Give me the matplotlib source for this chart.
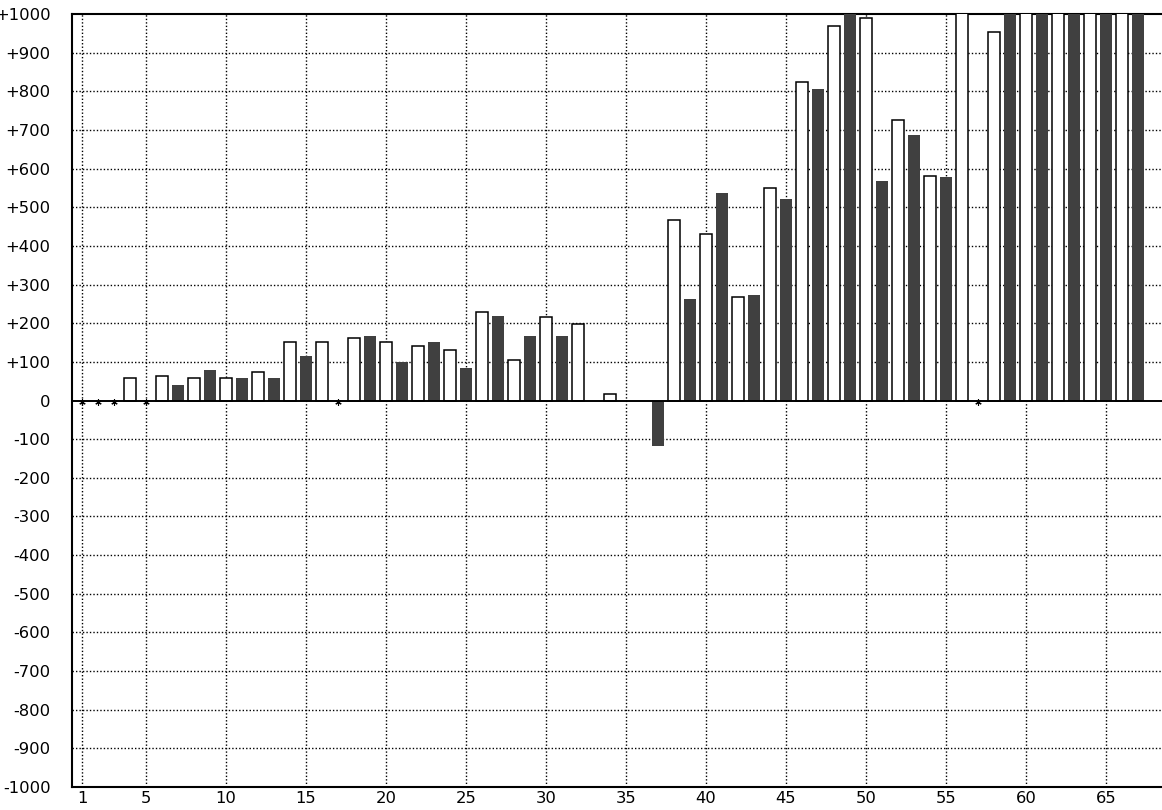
import matplotlib
matplotlib.use("Agg")
import matplotlib.pyplot as plt
import numpy as np

# positions 1..67; None = missing (drawn as '*'), even positions = open bars, odd = filled bars
positions = list(range(1, 68))
values = [None, None, None, 59, None, 64, 41, 59, 78, 59,
          57, 74, 57, 152, 114, 152, None, 163, 166, 152,
          99, 142, 151, 131, 83, 230, 218, 106, 166, 215,
          166, 199, 0, 17, 0, 0, -119, 467, 263, 430,
          538, 269, 273, 549, 522, 824, 807, 969, 1100, 990,
          569, 725, 688, 580, 579, 1100, None, 953, 1100, 1100,
          1100, 1100, 1100, 1100, 1100, 1100, 1100]

xticks = [1, 5, 10, 15, 20, 25, 30, 35, 40, 45, 50, 55, 60, 65]
yticks = list(range(-1000, 1001, 100))
ytick_labels = [("+%d" % v if v > 0 else str(v)) for v in yticks]

W, H = 1162, 810
fig = plt.figure(figsize=(W / 100, H / 100), dpi=100)
ax = fig.add_axes([72 / W, 1 - 787 / H, (W - 72) / W, (787 - 14) / H])

x_open = [p for p, v in zip(positions, values) if v is not None and p % 2 == 0 and v != 0]
v_open = [v for p, v in zip(positions, values) if v is not None and p % 2 == 0 and v != 0]
x_fill = [p for p, v in zip(positions, values) if v is not None and p % 2 == 1 and v != 0]
v_fill = [v for p, v in zip(positions, values) if v is not None and p % 2 == 1 and v != 0]
x_miss = [p for p, v in zip(positions, values) if v is None]

ax.bar(x_open, v_open, width=0.74, facecolor="white", edgecolor="black",
       linewidth=1.1, zorder=3)
ax.bar(x_fill, v_fill, width=0.75, color="#404040", linewidth=0, zorder=3)

ax.plot(x_miss, [-5] * len(x_miss), linestyle="none", marker=(6, 2, 0),
        markersize=4.5, color="black", markeredgewidth=0.8, zorder=4)

ax.axhline(0, color="black", linewidth=1.4, zorder=5)

for yv in yticks:
    if yv not in (-1000, 0, 1000):
        ax.axhline(yv, color="black", linewidth=1.0, linestyle=(0, (1, 1.5)), zorder=1)
for xv in xticks:
    ax.axvline(xv, color="black", linewidth=1.0, linestyle=(0, (1, 1.5)), zorder=1)

ax.set_xlim(0.375, 68.5)
ax.set_ylim(-1000, 1000)
ax.set_xticks(xticks)
ax.set_xticklabels([str(t) for t in xticks])
ax.set_yticks(yticks)
ax.set_yticklabels(ytick_labels)
ax.tick_params(axis="both", length=0, labelsize=11.8, colors="black")
ax.tick_params(axis="y", pad=15.5)
ax.tick_params(axis="x", pad=3)

for side in ["left", "top", "bottom"]:
    ax.spines[side].set_linewidth(1.5)
    ax.spines[side].set_color("black")
ax.spines["right"].set_visible(False)

fig.savefig("out.png", dpi=100)
